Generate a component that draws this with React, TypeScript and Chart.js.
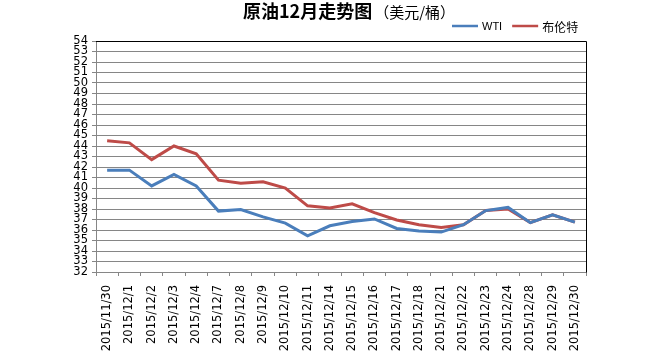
import React, { useEffect, useRef } from 'react';
import { Chart, registerables } from 'chart.js';

Chart.register(...registerables);

const categories = [
  '2015/11/30', '2015/12/1', '2015/12/2', '2015/12/3', '2015/12/4', '2015/12/7',
  '2015/12/8', '2015/12/9', '2015/12/10', '2015/12/11', '2015/12/14', '2015/12/15',
  '2015/12/16', '2015/12/17', '2015/12/18', '2015/12/21', '2015/12/22', '2015/12/23',
  '2015/12/24', '2015/12/28', '2015/12/29', '2015/12/30',
];

const wtiValues = [
  41.7, 41.7, 40.2, 41.3, 40.2, 37.8, 37.95, 37.25, 36.65, 35.45, 36.4, 36.8,
  37.05, 36.15, 35.9, 35.8, 36.5, 37.85, 38.15, 36.7, 37.45, 36.75,
];

const brentValues = [
  44.5, 44.3, 42.7, 44.0, 43.25, 40.75, 40.45, 40.6, 40.0, 38.3, 38.1, 38.5,
  37.65, 36.95, 36.5, 36.25, 36.5, 37.85, 38.0, 36.7, 37.45, 36.75,
];

const yTickValues = [
  32, 33, 34, 35, 36, 37, 38, 39, 40, 41, 42, 43, 44, 45, 46, 47, 48, 49, 50, 51, 52, 53, 54,
];

const seriesNames = ['WTI', '布伦特'];
const titleMain = '原油12月走势图';
const titleUnit = '（美元/桶）';

const BLUE = '#4A7EBB';
const RED = '#BE4B48';
const GRID = '#868686';
const LATIN = '"DejaVu Sans", sans-serif';
const CJK = '"Noto Sans CJK SC", "Noto Sans", sans-serif';

const decorPlugin = {
  id: 'decor',
  afterDraw(chart: any) {
    const { ctx, chartArea: a } = chart;
    ctx.save();
    // plot border (top & right)
    ctx.strokeStyle = '#000';
    ctx.lineWidth = 1;
    ctx.beginPath();
    ctx.moveTo(Math.round(a.left), Math.round(a.top) + 0.5);
    ctx.lineTo(Math.round(a.right) + 0.5, Math.round(a.top) + 0.5);
    ctx.lineTo(Math.round(a.right) + 0.5, Math.round(a.bottom) + 0.5);
    ctx.stroke();

    // title
    const boldFont = `bold 18px ${CJK}`;
    const normFont = `15px ${CJK}`;
    ctx.font = boldFont;
    const w1 = ctx.measureText(titleMain).width;
    ctx.font = normFont;
    const w2 = ctx.measureText(titleUnit).width;
    const x0 = 243;
    ctx.fillStyle = '#000';
    ctx.textBaseline = 'alphabetic';
    ctx.textAlign = 'left';
    ctx.font = boldFont;
    ctx.fillText(titleMain, x0, 18);
    ctx.font = normFont;
    ctx.fillText(titleUnit, x0 + w1 + 2, 18);
    void w2;

    // legend
    const colors = [BLUE, RED];
    const ly = 26;
    let x = 452;
    ctx.textBaseline = 'middle';
    for (let i = 0; i < seriesNames.length; i++) {
      ctx.strokeStyle = colors[i];
      ctx.lineWidth = 2.5;
      ctx.beginPath();
      ctx.moveTo(x, ly);
      ctx.lineTo(x + 26, ly);
      ctx.stroke();
      x += 30;
      ctx.font = i === 0 ? `11px "Liberation Sans", sans-serif` : `12px ${CJK}`;
      ctx.fillStyle = '#000';
      ctx.fillText(seriesNames[i], x, ly + 1);
      x += ctx.measureText(seriesNames[i]).width + 10;
    }
    ctx.restore();
  },
};

export default function App() {
  const ref = useRef<HTMLCanvasElement | null>(null);

  useEffect(() => {
    if (!ref.current) return;
    const chart = new Chart(ref.current, {
      type: 'line',
      data: {
        labels: categories,
        datasets: [
          {
            label: seriesNames[0],
            data: wtiValues,
            borderColor: BLUE,
            backgroundColor: BLUE,
            borderWidth: 3,
            pointRadius: 0,
            tension: 0,
          },
          {
            label: seriesNames[1],
            data: brentValues,
            borderColor: RED,
            backgroundColor: RED,
            borderWidth: 3,
            pointRadius: 0,
            tension: 0,
          },
        ],
      },
      options: {
        responsive: false,
        animation: false,
        devicePixelRatio: 1,
        layout: { padding: { top: 41, right: 68, left: 0, bottom: 0 } },
        plugins: {
          legend: { display: false },
          title: { display: false },
          tooltip: { enabled: false },
        },
        scales: {
          x: {
            type: 'category',
            offset: true,
            grid: {
              offset: true,
              drawOnChartArea: false,
              drawTicks: true,
              tickLength: 4,
              color: GRID,
            },
            border: { display: true, color: GRID },
            ticks: {
              autoSkip: false,
              minRotation: 90,
              maxRotation: 90,
              padding: 9,
              color: '#000',
              font: { family: LATIN, size: 11.5 },
            },
            afterFit: (scale: any) => {
              scale.height = 81;
            },
          },
          y: {
            type: 'linear',
            min: 32,
            max: 54,
            grid: { color: GRID, tickLength: 4 },
            border: { display: true, color: GRID },
            ticks: {
              autoSkip: false,
              padding: 4,
              color: '#000',
              font: { family: LATIN, size: 11.5 },
              callback: (v: any) => String(v),
            },
            afterBuildTicks: (scale: any) => {
              scale.ticks = yTickValues.map((v) => ({ value: v }));
            },
            afterFit: (scale: any) => {
              scale.width = 96;
            },
          },
        },
      },
      plugins: [decorPlugin],
    });
    return () => chart.destroy();
  }, []);

  return (
    <div style={{ position: 'absolute', left: 0, top: 0, width: 654, height: 353, background: '#fff' }}>
      <canvas ref={ref} width={654} height={353} style={{ width: 654, height: 353, display: 'block' }} />
    </div>
  );
}
